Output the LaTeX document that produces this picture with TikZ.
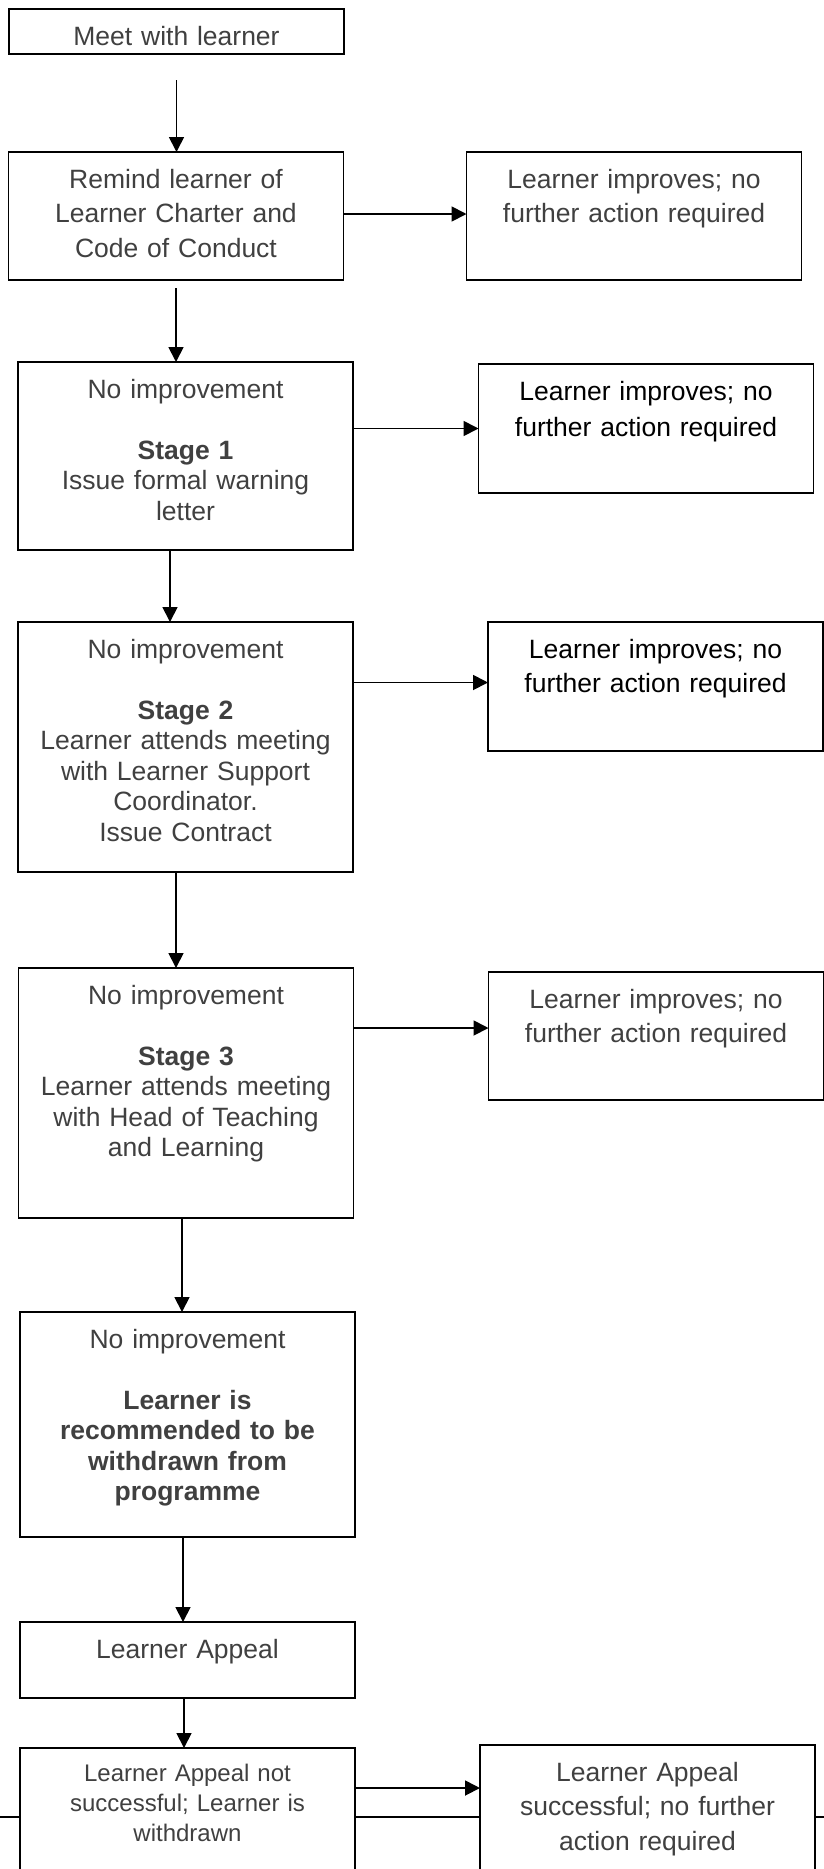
\documentclass[tikz,border=0pt]{standalone}
\usepackage{fontspec}
\setmainfont{Liberation Sans}
\usepackage{xcolor}
\usetikzlibrary{arrows.meta,positioning,calc}
\definecolor{ink}    {HTML}{000000}
\definecolor{inkgray}{HTML}{404040}
\newcommand\tightfont{\fontsize{26.5}{30.5}\selectfont}
\newcommand\loosefont{\fontsize{26.5}{34.5}\selectfont}
\newcommand\smallfont{\fontsize{24}{30}\selectfont}
\tikzset{
  box/.style  ={draw=ink, fill=white, line width=1.9pt, inner sep=0pt,
                outer sep=0pt, text width=335pt, align=center, anchor=north,
                text height=36pt, font=\tightfont, text=inkgray},
  lbox/.style ={box, font=\loosefont},
  dbox/.style ={box, text=ink, font=\fontsize{26.5}{34}\selectfont},
  arr/.style  ={-{Triangle[length=15pt,width=15pt]}, line width=1.8pt},
  rule/.style ={line width=1.8pt},
}

\begin{document}
\begin{tikzpicture}[x=1pt,y=-1pt]
  \useasboundingbox (0,0) rectangle (824,1869);
  \draw[rule] (0,1817) -- (824,1817);

  \node[box,text depth=9pt] (meet) at (176.5,9) {Meet with learner};
  \node[lbox,text depth=92pt] (remind) at (176,152)
    {Remind learner of\\Learner Charter and\\Code of Conduct};
  \node[lbox,text depth=92pt] (ok1) at (634,152)
    {Learner improves; no\\further action required};

  \node[box,text depth=152pt] (stage1) at (185.5,362)
    {No improvement\\[30.5pt]\textbf{Stage 1}\\Issue formal warning\\letter};
  \node[dbox,text depth=93pt,font=\fontsize{26.5}{36}\selectfont] (ok2) at (646,364)
    {Learner improves; no\\further action required};

  \node[box,text depth=214pt] (stage2) at (185.5,622)
    {No improvement\\[30.5pt]\textbf{Stage 2}\\Learner attends meeting\\with Learner Support\\Coordinator.\\Issue Contract};
  \node[dbox,text depth=93pt] (ok3) at (655.5,622)
    {Learner improves; no\\further action required};

  \node[box,text depth=214pt] (stage3) at (186,968)
    {No improvement\\[30.5pt]\textbf{Stage 3}\\Learner attends meeting\\with Head of Teaching\\and Learning};
  \node[box,text depth=92pt,font=\fontsize{26.5}{34}\selectfont] (ok4) at (656,972)
    {Learner improves; no\\further action required};

  \node[box,text depth=189pt] (withdraw) at (187.5,1312)
    {No improvement\\[30.5pt]\textbf{Learner is}\\\textbf{recommended to be}\\\textbf{withdrawn from}\\\textbf{programme}};
  \node[box,text depth=40pt] (appeal) at (187.5,1622) {Learner Appeal};

  \node[box,text height=33pt,text depth=119pt,font=\smallfont] (lost) at (187.5,1748)
    {Learner Appeal not\\successful; Learner is\\withdrawn};
  \node[lbox,text depth=119pt] (won) at (647.5,1745)
    {Learner Appeal\\successful; no further\\action required};

  % down the left column
  \draw[arr,shorten <=26pt] (meet.south) -- (meet.south |- remind.north);
  \draw[arr,shorten <=8pt] (remind.south) -- (remind.south |- stage1.north);
  \draw[arr] ([xshift=-15.5pt]stage1.south) -- ([xshift=-15.5pt]stage1.south |- stage2.north);
  \draw[arr] ([xshift=-9.5pt]stage2.south) -- ([xshift=-9.5pt]stage2.south |- stage3.north);
  \draw[arr] ([xshift=-4pt]stage3.south) -- ([xshift=-4pt]stage3.south |- withdraw.north);
  \draw[arr] ([xshift=-4.5pt]withdraw.south) -- ([xshift=-4.5pt]withdraw.south |- appeal.north);
  \draw[arr] ([xshift=-3.5pt]appeal.south) -- ([xshift=-3.5pt]appeal.south |- lost.north);

  % across to the right
  \draw[arr] ([yshift=2pt]remind.east) -- ([yshift=2pt]remind.east -| ok1.west);
  \draw[arr] (stage1.east |- ok2.west) -- (ok2.west);
  \draw[arr] ([yshift=4pt]stage2.east |- ok3.west) -- ([yshift=4pt]ok3.west);
  \draw[arr] ([yshift=8pt]stage3.east |- ok4.west) -- ([yshift=8pt]ok4.west);
  \draw[arr] ([yshift=-40pt]lost.north east) -- ([yshift=-40pt]lost.north east -| won.west);
\end{tikzpicture}
\end{document}
